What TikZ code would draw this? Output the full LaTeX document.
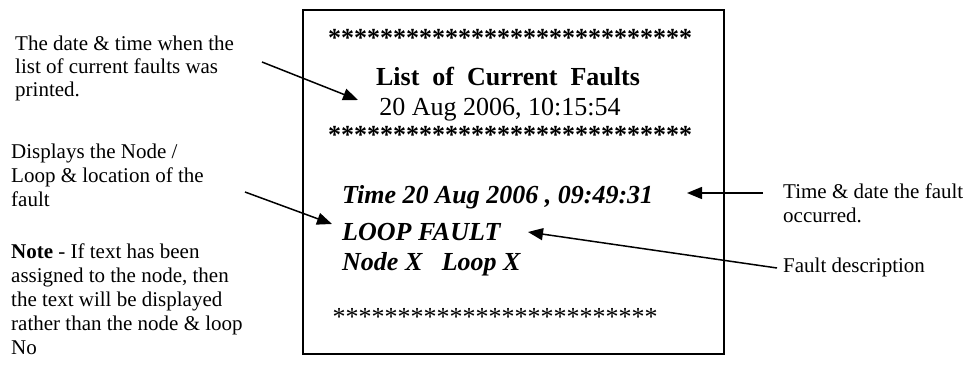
\documentclass[tikz,border=0pt]{standalone}
\usepackage{fontspec}
\setmainfont{Liberation Serif}
\usetikzlibrary{arrows.meta}
\tikzset{
  ann/.style={inner sep=0pt, anchor=base west, align=left, font=\fontsize{21}{24}\selectfont},
  big/.style={inner sep=0pt, font=\fontsize{26}{30}\selectfont},
  bigbi/.style={inner sep=0pt, anchor=base west, font=\fontsize{26}{30}\selectfont\bfseries\itshape},
  pointer/.style={line width=1.5pt, -{Triangle[length=15pt,width=12pt]}},
  panelbox/.style={draw, line width=2pt, inner sep=0pt, anchor=north west}
}
\begin{document}
\begin{tikzpicture}[x=1pt,y=-1pt]
\useasboundingbox (0,0) rectangle (970,367);
% panel
\node[panelbox, minimum width=421pt, minimum height=344pt] (panel) at (302,9) {};
% panel contents
\node[big, anchor=center, font=\fontsize{26}{30}\selectfont\bfseries] (stars1) at (510,38) {****************************};
\node[big, anchor=base, font=\fontsize{26}{30}\selectfont\bfseries] (title) at (508,85) {List\ \ of\ \ Current\ \ Faults};
\node[big, anchor=base] (printdate) at (500,115) {20 Aug 2006, 10:15:54};
\node[big, anchor=center, font=\fontsize{26}{30}\selectfont\bfseries] (stars2) at (510,135) {****************************};
\node[bigbi] (time) at (342,203) {Time 20 Aug 2006 , 09:49:31};
\node[bigbi] (loopfault) at (342,240) {LOOP FAULT};
\node[bigbi] (nodeloop) at (342,270) {Node X\ \ \ Loop X};
\node[big, anchor=center] (stars3) at (495,317) {*************************};
% annotations (base anchor = baseline of the last line)
\node[ann, font=\fontsize{21}{23}\selectfont] (ann1) at (15,96) {The date \& time when the\\list of current faults was\\printed.};
\node[ann] (ann2) at (11,206) {Displays the Node /\\Loop \& location of the\\fault};
\node[ann] (ann3) at (11,354) {\textbf{Note} - If text has been\\assigned to the node, then\\the text will be displayed\\rather than the node \& loop\\No};
\node[ann] (ann4) at (783,222) {Time \& date the fault\\occurred.};
\node[ann] (ann5) at (783,272) {Fault description};
% connectors
\coordinate (p1s) at (262,62);
\coordinate (p1e) at (358,100);
\coordinate (p2s) at (245,192);
\coordinate (p2e) at (332,224);
\coordinate (p3s) at (763,193);
\coordinate (p3e) at (687,193);
\coordinate (p4s) at (777,268);
\coordinate (p4e) at (528,232);
\draw[pointer] (p1s) -- (p1e);
\draw[pointer] (p2s) -- (p2e);
\draw[pointer] (p3s) -- (p3e);
\draw[pointer] (p4s) -- (p4e);
\end{tikzpicture}
\end{document}
